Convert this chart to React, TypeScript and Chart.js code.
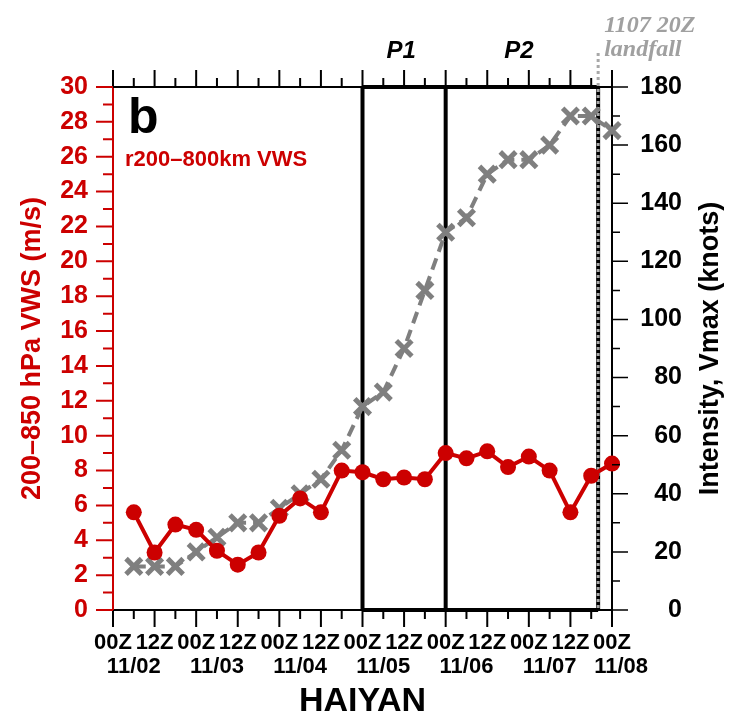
import React, { useEffect, useRef } from 'react';
import { Chart, registerables } from 'chart.js';

Chart.register(...registerables);

// ---- data ----
const stepHours = [6, 12, 18, 24, 30, 36, 42, 48, 54, 60, 66, 72, 78, 84, 90, 96, 102, 108, 114, 120, 126, 132, 138, 144];
const vwsValues = [5.6, 3.3, 4.9, 4.6, 3.4, 2.6, 3.3, 5.4, 6.4, 5.6, 8.0, 7.9, 7.5, 7.6, 7.5, 9.0, 8.7, 9.1, 8.2, 8.8, 8.0, 5.6, 7.7, 8.4];
const vmaxValues = [15, 15, 15, 20, 25, 30, 30, 35, 40, 45, 55, 70, 75, 90, 110, 130, 135, 150, 155, 155, 160, 170, 170, 165];
const dayLabels = ['11/02', '11/03', '11/04', '11/05', '11/06', '11/07', '11/08'];
const hourLabels = ['00Z', '12Z'];
const periodBoundsHours = [72, 96, 140];
const periodLabels = ['P1', 'P2'];
const landfallHour = 140;
const landfallLabel = ['1107 20Z', 'landfall'];
const panelLetter = 'b';
const regionLabel = 'r200\u2013800km VWS';
const leftTitle = '200\u2013850 hPa VWS (m/s)';
const rightTitle = 'Intensity, Vmax (knots)';
const xTitle = 'HAIYAN';

const RED = '#cc0000';
const GRAY = '#7f7f7f';
const FONT = '"Liberation Sans", Arial, Helvetica, sans-serif';

const decorPlugin = {
  id: 'decor',
  beforeDatasetsDraw(chart: any) {
    const { ctx, chartArea, scales } = chart;
    const { top, bottom } = chartArea;
    const x = scales.x;
    const xs = periodBoundsHours.map((h) => x.getPixelForValue(h));
    ctx.save();
    ctx.strokeStyle = '#000';
    ctx.lineWidth = 4;
    ctx.beginPath();
    ctx.moveTo(xs[0], top);
    ctx.lineTo(xs[xs.length - 1], top);
    ctx.moveTo(xs[0], bottom);
    ctx.lineTo(xs[xs.length - 1], bottom);
    xs.forEach((px) => {
      ctx.moveTo(px, top);
      ctx.lineTo(px, bottom);
    });
    ctx.stroke();
    const lx = x.getPixelForValue(landfallHour);
    ctx.strokeStyle = '#a8a8a8';
    ctx.lineWidth = 3;
    ctx.setLineDash([3, 3]);
    ctx.beginPath();
    ctx.moveTo(lx, top - 34);
    ctx.lineTo(lx, bottom);
    ctx.stroke();
    ctx.restore();
  },
  afterDraw(chart: any) {
    const { ctx, chartArea, scales } = chart;
    const { left, right, top, bottom } = chartArea;
    const x = scales.x;
    const y = scales.y;
    const y2 = scales.y2;
    ctx.save();
    // top border
    ctx.strokeStyle = '#000';
    ctx.lineWidth = 2;
    ctx.beginPath();
    ctx.moveTo(left, top);
    ctx.lineTo(right, top);
    ctx.stroke();
    // x ticks (top and bottom, outward)
    ctx.lineWidth = 2;
    ctx.beginPath();
    x.ticks.forEach((t: any) => {
      const px = x.getPixelForValue(t.value);
      const len = t.value % 12 === 0 ? 17 : 9;
      ctx.moveTo(px, bottom);
      ctx.lineTo(px, bottom + len);
      ctx.moveTo(px, top);
      ctx.lineTo(px, top - len);
    });
    ctx.stroke();
    // left ticks
    ctx.strokeStyle = RED;
    ctx.beginPath();
    for (let v = y.min; v <= y.max; v += 1) {
      const py = y.getPixelForValue(v);
      const len = v % 2 === 0 ? 17 : 10;
      ctx.moveTo(left, py);
      ctx.lineTo(left - len, py);
    }
    ctx.stroke();
    // right ticks
    ctx.strokeStyle = '#000';
    ctx.lineWidth = 1.5;
    ctx.beginPath();
    for (let v = y2.min; v <= y2.max; v += 10) {
      const py = y2.getPixelForValue(v);
      const len = v % 20 === 0 ? 16 : 8;
      ctx.moveTo(right, py);
      ctx.lineTo(right + len, py);
    }
    ctx.stroke();

    // period labels
    const xs = periodBoundsHours.map((h) => x.getPixelForValue(h));
    ctx.fillStyle = '#000';
    ctx.font = `italic bold 24px ${FONT}`;
    ctx.textAlign = 'center';
    ctx.textBaseline = 'alphabetic';
    periodLabels.forEach((lab, i) => {
      ctx.fillText(lab, (xs[i] + xs[i + 1]) / 2 - 3, top - 29);
    });

    // landfall label
    const lx = x.getPixelForValue(landfallHour);
    ctx.fillStyle = '#a0a0a0';
    ctx.font = `italic bold 24px "Liberation Serif", "DejaVu Serif", serif`;
    ctx.textAlign = 'left';
    ctx.fillText(landfallLabel[0], lx + 6, top - 55);
    ctx.fillText(landfallLabel[1], lx + 6, top - 31);

    // panel letter + region
    ctx.fillStyle = '#000';
    ctx.font = `bold 50px ${FONT}`;
    ctx.fillText(panelLetter, left + 15, top + 46);
    ctx.fillStyle = RED;
    ctx.font = `bold 22px ${FONT}`;
    ctx.fillText(regionLabel, left + 12, top + 79);

    // right title (reads bottom to top)
    ctx.fillStyle = '#000';
    ctx.font = `bold 27px ${FONT}`;
    ctx.translate(right + 99, (top + bottom) / 2);
    ctx.rotate(-Math.PI / 2);
    ctx.textAlign = 'center';
    ctx.textBaseline = 'middle';
    ctx.fillText(rightTitle, 0, 0);
    ctx.restore();
  },
};

function xTickLabel(value: number): string | string[] {
  const day = Math.floor(value / 24);
  const hr = value % 24;
  if (value === 144) return [hourLabels[0], '   ' + dayLabels[day]];
  if (hr === 6) return ['', dayLabels[day]];
  if (hr % 12 === 0) return hourLabels[hr / 12];
  return '';
}

export default function App() {
  const ref = useRef<HTMLCanvasElement | null>(null);
  useEffect(() => {
    if (!ref.current) return;
    Chart.defaults.font.family = FONT;
    const chart = new Chart(ref.current, {
      type: 'line',
      data: {
        datasets: [
          {
            label: 'VWS',
            data: stepHours.map((h, i) => ({ x: h, y: vwsValues[i] })),
            yAxisID: 'y',
            borderColor: RED,
            backgroundColor: RED,
            borderWidth: 4,
            pointRadius: 8,
            pointBorderWidth: 0,
            pointBackgroundColor: RED,
            tension: 0,
            clip: false as any,
          },
          {
            label: 'Vmax',
            data: stepHours.map((h, i) => ({ x: h, y: vmaxValues[i] })),
            yAxisID: 'y2',
            borderColor: GRAY,
            backgroundColor: GRAY,
            borderWidth: 4,
            borderDash: [12, 7],
            pointStyle: 'crossRot',
            pointRadius: 11,
            pointBorderWidth: 5,
            pointBorderColor: GRAY,
            tension: 0,
            clip: false as any,
          },
        ],
      },
      options: {
        animation: false,
        responsive: false,
        layout: { padding: { left: 0, right: 49, top: 87, bottom: 0 } },
        plugins: { legend: { display: false }, tooltip: { enabled: false } },
        scales: {
          x: {
            type: 'linear',
            min: 0,
            max: 144,
            grid: { display: false, drawTicks: false },
            border: { display: true, color: '#000', width: 2 },
            ticks: {
              stepSize: 6,
              autoSkip: false,
              maxRotation: 0,
              padding: 21,
              color: '#000',
              font: { size: 22, weight: 'bold', lineHeight: 1.1 },
              callback: (v: any) => xTickLabel(Number(v)),
            },
            title: {
              display: true,
              text: xTitle,
              color: '#000',
              font: { size: 34, weight: 'bold', lineHeight: 1 },
              padding: { top: 0, bottom: 1 },
            },
            afterFit: (s: any) => {
              s.height = 110;
            },
          },
          y: {
            type: 'linear',
            position: 'left',
            min: 0,
            max: 30,
            grid: { display: false, drawTicks: false },
            border: { display: true, color: RED, width: 2 },
            ticks: {
              stepSize: 2,
              padding: 25,
              color: RED,
              font: { size: 25, weight: 'bold' },
            },
            title: {
              display: true,
              text: leftTitle,
              color: RED,
              font: { size: 27, weight: 'bold', lineHeight: 1.2 },
              padding: { top: 16, bottom: 0 },
            },
            afterFit: (s: any) => {
              s.width = 113;
            },
          },
          y2: {
            type: 'linear',
            position: 'right',
            min: 0,
            max: 180,
            grid: { display: false, drawTicks: false },
            border: { display: true, color: '#000', width: 2 },
            ticks: {
              stepSize: 20,
              padding: 25,
              crossAlign: 'far',
              color: '#000',
              font: { size: 25, weight: 'bold' },
            },
            title: { display: false },
            afterFit: (s: any) => {
              s.width = 70;
            },
          },
        },
      } as any,
      plugins: [decorPlugin],
    });
    return () => chart.destroy();
  }, []);
  return (
    <div style={{ position: 'absolute', left: 0, top: 0, width: 731, height: 720, background: '#fff' }}>
      <canvas ref={ref} width={731} height={720} style={{ display: 'block' }} />
    </div>
  );
}
